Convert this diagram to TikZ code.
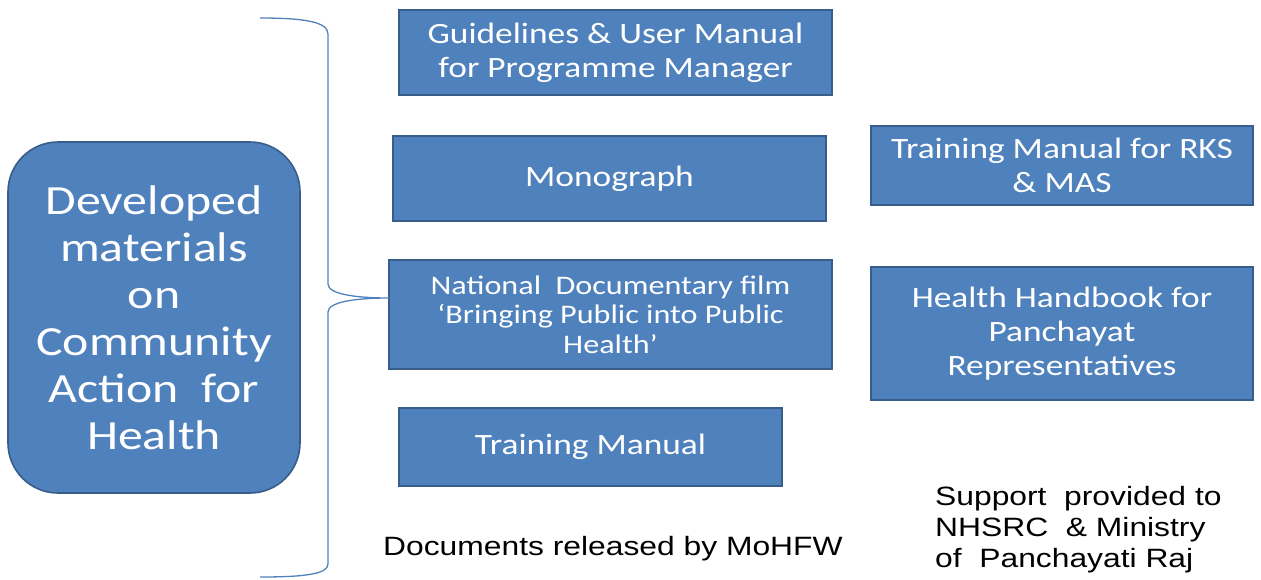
\documentclass[tikz,border=0pt]{standalone}
\usepackage{fontspec}
\newfontfamily\boxfont[FakeStretch=1.2]{Carlito}
\newfontfamily\plainfont[FakeStretch=1.2]{Liberation Sans}
\definecolor{boxfill}{HTML}{4F81BD}
\definecolor{boxline}{HTML}{385D8A}
\begin{document}
\begin{tikzpicture}[x=1pt,y=-1pt,
  matbox/.style={draw=boxline,line width=1.6pt,fill=boxfill,text=white,align=center,inner sep=0pt,font=\boxfont\fontsize{29.5}{34}\selectfont},
  bigbox/.style={matbox,rounded corners=50pt,font=\boxfont\fontsize{41.5}{47}\selectfont},
  note/.style={align=left,inner sep=0pt,text=black,font=\plainfont\fontsize{26.5}{31}\selectfont}]
\useasboundingbox (0,0) rectangle (1261,579);
\node[bigbox,minimum width=292pt,minimum height=351pt] (main) at (154,317.5) {Developed\\materials\\on\\Community\\Action~ for\\Health};
\node[matbox,minimum width=433pt,minimum height=85pt] (guide) at (615.5,52.5) {Guidelines \& User Manual\\for Programme Manager};
\node[matbox,minimum width=433pt,minimum height=85pt] (mono) at (609.5,178.5) {Monograph};
\node[matbox,minimum width=443pt,minimum height=109pt,font=\boxfont\fontsize{26.8}{29.5}\selectfont] (film) at (610.5,314.5) {National~ Documentary film\\‘Bringing Public into Public\\Health’};
\node[matbox,minimum width=383pt,minimum height=78pt] (train) at (590.5,447) {Training Manual};
\node[matbox,minimum width=382pt,minimum height=79pt] (rks) at (1062,165.5) {Training Manual for RKS\\\& MAS};
\node[matbox,minimum width=382pt,minimum height=133pt] (hand) at (1062,333.5) {Health Handbook for\\Panchayat\\Representatives};
\node[note,anchor=base west] (docs) at (383,555) {Documents released by MoHFW};
\node[note,anchor=north west] (support) at (935,486) {Support~ provided to\\NHSRC~ \& Ministry\\of~ Panchayati Raj};
\coordinate (top) at (260,18);
\coordinate (bot) at (260,577);
\coordinate (tip) at (389,298);
\draw[boxfill,line width=1.3pt] (top) .. controls (305,18) and (328,22) .. (328,34) -- (328,284)
  .. controls (328,294) and (355,298) .. (tip)
  .. controls (355,298) and (328,302) .. (328,312) -- (328,564)
  .. controls (328,574) and (305,577) .. (bot);
\end{tikzpicture}
\end{document}
